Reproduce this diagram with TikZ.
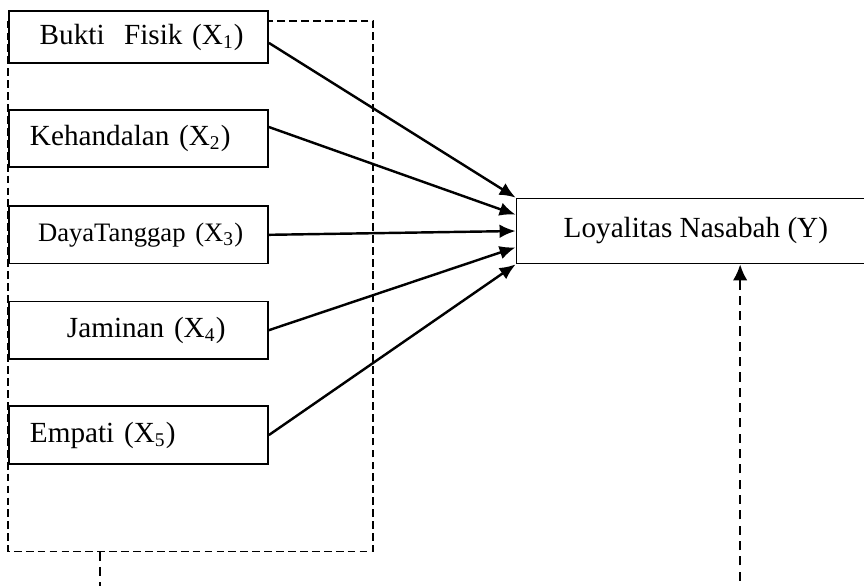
\documentclass[tikz,border=0pt,12pt]{standalone}
\usepackage{fontspec}
\setmainfont{Liberation Serif}
\usetikzlibrary{arrows.meta}
\pgfdeclarelayer{background}
\pgfsetlayers{background,main}
\tikzstyle{variabel}=[draw, fill=white, line width=0.75pt, text width=89.2pt,
  inner xsep=8.6pt, align=left, minimum height=23.6pt]
\tikzstyle{hasil}=[draw, fill=white, line width=0.75pt, align=center,
  minimum width=147.4pt, minimum height=26.7pt]
\tikzstyle{garis}=[draw, line width=1pt, -{Latex[length=6.6pt,width=5.6pt]}]
\tikzstyle{garisputus}=[draw, line width=0.75pt, dash pattern=on 3.2pt off 1.7pt]
\tikzstyle{garisbawah}=[garisputus, line width=0.85pt, dash pattern=on 3.8pt off 2.5pt]
\newcommand{\variabel}[2]{node (b#1) [variabel] {#2}}
\newcommand{\kotakputus}[4]{%
  \begin{pgfonlayer}{background}
    % Left-top corner of the dashed frame
    \path (#1.west |- #1.north)+(0,#3) coordinate (a1);
    % Right-bottom corner of the dashed frame
    \path (#2.east |- #2.south)+#4 coordinate (a2);
    \path [garisputus] (a1) rectangle (a2);
  \end{pgfonlayer}}

\begin{document}
\begin{tikzpicture}[x=0.411pt,y=0.411pt]
  \useasboundingbox (0,0) rectangle (864,-586);

  % Draw diagram elements
  \path (138.5,-37.3) node (b1) [variabel, minimum height=21.4pt]
    {\hspace{4pt}Bukti\ \ Fisik (X\textsubscript{1})};
  \path (b1.south)+(0,-74.2) \variabel{2}{Kehandalan (X\textsubscript{2})};
  \path (b2.south)+(0,-66.75) \variabel{3}{\small\hspace{3.3pt}DayaTanggap (X\textsubscript{3})};
  \path (b3.south)+(0,-65.75) \variabel{4}{\hspace{15.2pt}Jaminan (X\textsubscript{4})};
  \path (b4.south)+(0,-75.25) \variabel{5}{Empati (X\textsubscript{5})};
  \path (b3.east)+(427,3.8) node (y) [hasil] {Loyalitas Nasabah (Y)};

  % Draw arrows between elements
  \path [garis] ([yshift=-2.3pt]b1.east) -- (y.north west);
  \path [garis] ([yshift=4.7pt]b2.east) -- ([yshift=6.7pt]y.west);
  \path [garis] (b3.east) -- (y.west);
  \path [garis] (b4.east) -- ([yshift=-6.7pt]y.west);
  \path [garis] (b5.east) -- (y.south west);

  \kotakputus{b1}{b5}{-10.3}{(104,-86.75)}

  % Dashed lines leaving the picture
  \path (a1 |- a2)+(92,0) coordinate (k1);
  \path (k1)+(0,-60) coordinate (k2);
  \path (k1)+(640,-60) coordinate (k3);
  \path [garisbawah] (k1) -- (k2);
  \path [garisbawah, -{Latex[length=6.6pt,width=6pt]}] (k3) -- (k3 |- y.south);
\end{tikzpicture}
\end{document}
